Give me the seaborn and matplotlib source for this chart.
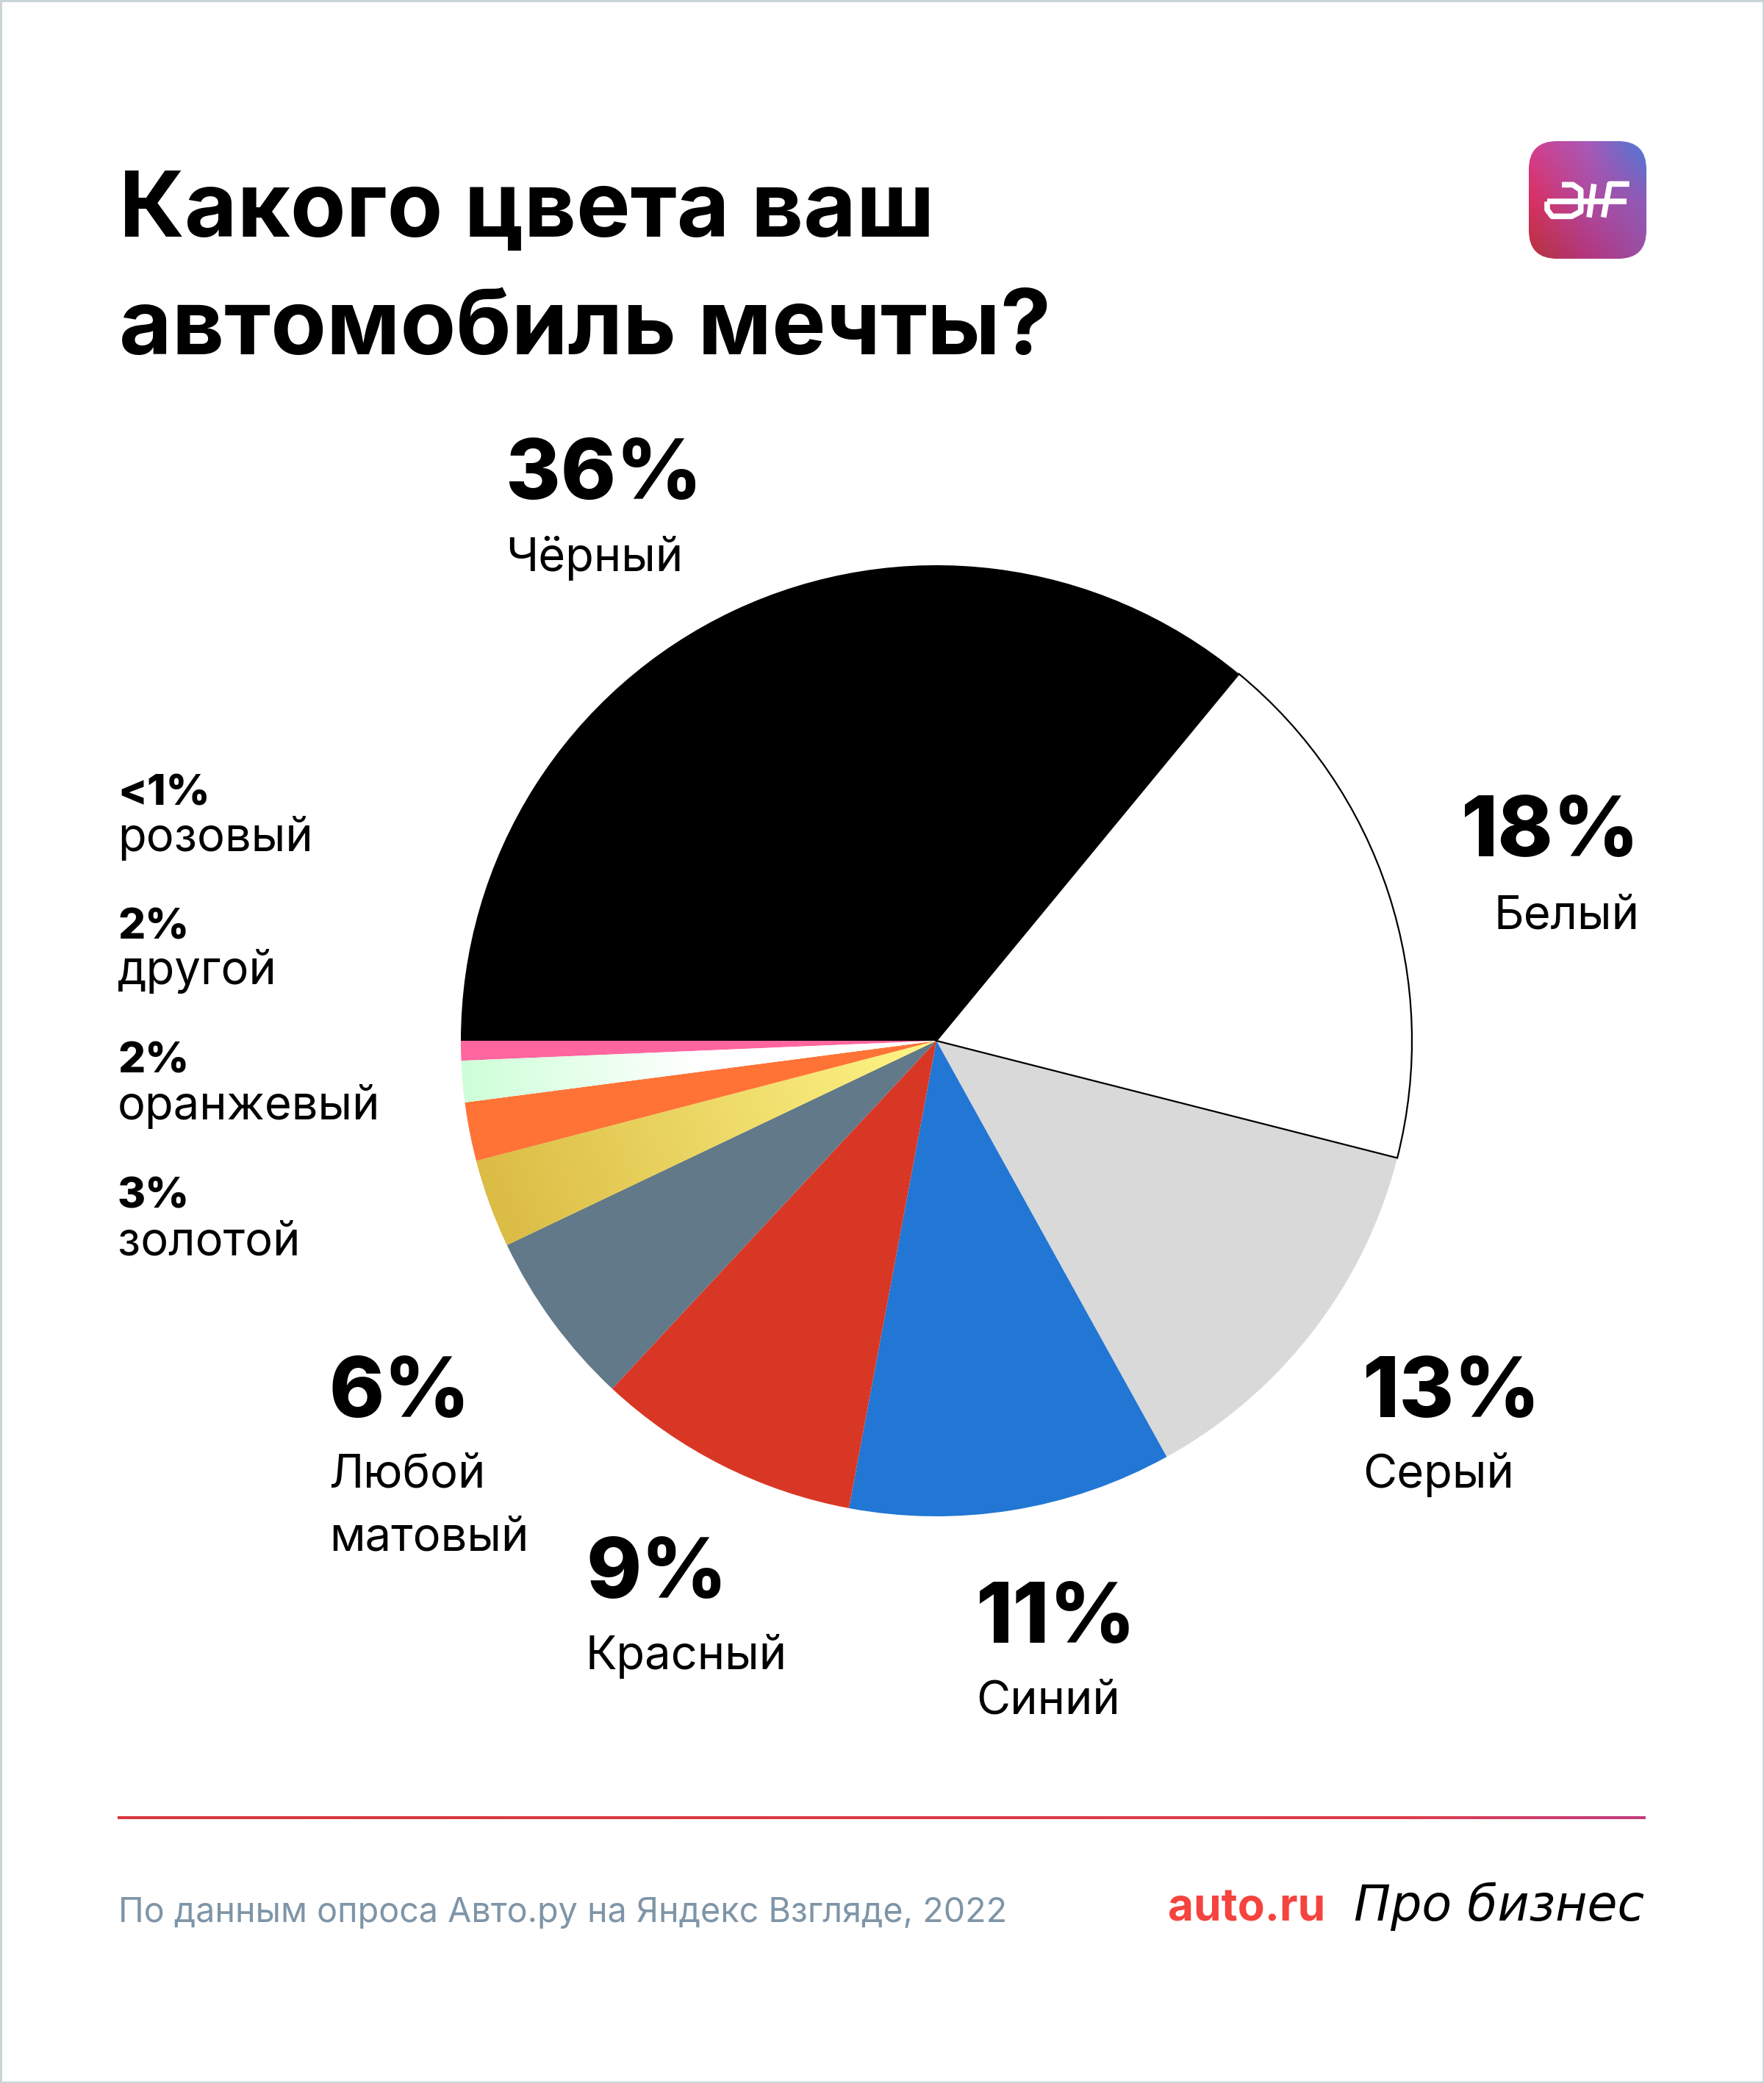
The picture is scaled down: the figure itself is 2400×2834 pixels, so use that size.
import numpy as np
import matplotlib
matplotlib.use("Agg")
import matplotlib.pyplot as plt
from matplotlib.colors import LinearSegmentedColormap, to_rgb
from matplotlib.patches import FancyBboxPatch, Rectangle
import seaborn as sns

# ---- data -------------------------------------------------------------
categories = ["Чёрный", "Белый", "Серый", "Синий", "Красный", "Любой матовый",
              "золотой", "оранжевый", "другой", "розовый"]
# wedge shares (the printed labels are rounded)
shares = [36.0, 18.0, 13.0, 11.0, 9.0, 6.0, 3.0, 2.0, 1.4, 0.67]
colors = ["#000000", "#FFFFFF", "#D9D9D9", "#2276D4", "#D93725", "#627989",
          "#E8D260", "#FF7337", "#EFFFF2", "#FF659E"]

title_lines = ["Какого цвета ваш", "автомобиль мечты?"]
big_labels = [
    ("36%", ["Чёрный"], 688, 679, [777], "left"),
    ("18%", ["Белый"], 2231, 1165, [1263], "right"),
    ("13%", ["Серый"], 1854, 1928, [2024], "left"),
    ("11%", ["Синий"], 1328, 2235, [2331], "left"),
    ("9%", ["Красный"], 797, 2174, [2271], "left"),
    ("6%", ["Любой", "матовый"], 448, 1928, [2024, 2109], "left"),
]
small_labels = [
    ("<1%", "розовый", 1095, 1158),
    ("2%", "другой", 1278, 1339),
    ("2%", "оранжевый", 1460, 1523),
    ("3%", "золотой", 1643, 1708),
]
source_text = "По данным опроса Авто.ру на Яндекс Взгляде, 2022"

# ---- theme ------------------------------------------------------------
sns.set_theme(style="white")
plt.rcParams["font.family"] = ["Inter", "Noto Sans", "DejaVu Sans"]

W, H = 2400, 2834
fig = plt.figure(figsize=(W / 100, H / 100), dpi=100, facecolor="white")

# page-pixel overlay for all the text
page = fig.add_axes([0, 0, 1, 1], zorder=5)
page.patch.set_visible(False)
page.axis("off")

# ---- pie --------------------------------------------------------------
CX, CY, R, PAD = 1274, 1416, 647, 1.25
half = R * PAD
ax = fig.add_axes([(CX - half) / W, 1 - (CY + half) / H, 2 * half / W, 2 * half / H], zorder=1)
palette = sns.color_palette(colors)
wedges, _ = ax.pie(shares, colors=palette, startangle=180, counterclock=False,
                   radius=1, wedgeprops={"linewidth": 0})
ax.set_xlim(-PAD, PAD)
ax.set_ylim(-PAD, PAD)
ax.patch.set_visible(False)

# white wedge: thin black outline, on top of its neighbours
white = wedges[categories.index("Белый")]
white.set_edgecolor("black")
white.set_linewidth(1.6)
white.set_zorder(4)


def radial_fill(wedge, c_rim, c_tip, start):
    mid = np.deg2rad((wedge.theta1 + wedge.theta2) / 2)
    g = np.linspace(-1.02, 1.02, 600)
    X, Y = np.meshgrid(g, g)
    t = np.clip(((X * np.cos(mid) + Y * np.sin(mid)) - start) / (1 - start), 0, 1)
    cmap = LinearSegmentedColormap.from_list("g", [c_tip, c_rim])
    im = ax.imshow(t, extent=[-1.02, 1.02, -1.02, 1.02], origin="lower", cmap=cmap,
                   vmin=0, vmax=1, zorder=3, interpolation="bilinear")
    im.set_clip_path(wedge)


radial_fill(wedges[categories.index("золотой")], "#DBBC45", "#FFF688", 0.0)
radial_fill(wedges[categories.index("другой")], "#CDFFD8", "#FFFFFF", 0.5)
ax.set_xlim(-PAD, PAD)
ax.set_ylim(-PAD, PAD)
ax.set_aspect("equal")

# ---- text -------------------------------------------------------------
BIG = dict(fontsize=82, fontweight="extra bold", color="black", va="baseline")
NAME = dict(fontsize=45.5, fontweight="normal", color="black", va="baseline")
SMALLPCT = dict(fontsize=42, fontweight="extra bold", color="black", va="baseline")
SMALLNAME = dict(fontsize=45.5, fontweight="normal", color="black", va="baseline")

for i, line in enumerate(title_lines):
    page.text(162, 322 + i * 160, line, fontsize=89, fontweight="bold", color="black", va="baseline")

for pct, names, x, y_pct, ys, ha in big_labels:
    page.text(x, y_pct, pct, ha=ha, **BIG)
    for name, y in zip(names, ys):
        page.text(x, y, name, ha=ha, **NAME)

for pct, name, y1, y2 in small_labels:
    page.text(160, y1, pct, **SMALLPCT)
    page.text(160, y2, name, **SMALLNAME)

page.text(161, 2615, source_text, fontsize=33.6, color="#7F95A7", va="baseline")
page.text(1589, 2613, "auto.ru", fontsize=43.5, fontweight="bold", color="#F5433F", va="baseline")
page.text(1842, 2613, "Про бизнес", fontsize=48, fontstyle="italic", color="black", va="baseline",
          family=["DejaVu Sans"])

# rule with a slight colour drift
rule = LinearSegmentedColormap.from_list(
    "r", [(0, "#D8363A"), (0.85, "#DF3A4B"), (1, "#C03C80")])
page.imshow(np.linspace(0, 1, 512)[None, :], extent=[160, 2239, 2475, 2471], aspect="auto", cmap=rule)

page.set_xlim(0, W)
page.set_ylim(H, 0)

# page outline
fig.patches.append(Rectangle((0, 0), 1, 1, transform=fig.transFigure, fill=False,
                             edgecolor="#C8D4D6", linewidth=3.5, figure=fig))

# ---- logo -------------------------------------------------------------
logo = fig.add_axes([2080 / W, 1 - 352 / H, 160 / W, 160 / H], zorder=6)
logo.axis("off")
grid3 = [["#D24090", "#A85AB8", "#4A7AD8"],
         ["#DB2F60", "#B04AA0", "#8C5CB8"],
         ["#B5333A", "#B4357C", "#9A4FA5"]]
rgb3 = np.array([[to_rgb(c) for c in row] for row in grid3])
n = 200
pos = np.linspace(0, 2, n)
img = np.zeros((n, n, 3))
for ch in range(3):
    across = np.array([np.interp(pos, [0, 1, 2], rgb3[r, :, ch]) for r in range(3)])
    for col in range(n):
        img[:, col, ch] = np.interp(pos, [0, 1, 2], across[:, col])
im = logo.imshow(img, extent=[0, 1, 1, 0], aspect="auto", interpolation="bilinear")
box = FancyBboxPatch((0.0, 0.0), 1, 1, boxstyle="round,pad=0,rounding_size=0.24",
                     transform=logo.transData, linewidth=0, facecolor="none")
logo.add_patch(box)
im.set_clip_path(box)
box.set_clip_on(False)


def gx(p):  # position in the logo crop -> logo axes units
    return (p - 120) / 480


def gy(p):
    return (p - 65) / 480


glyphs = [
    [(255, 243), (300, 243), (332, 265), (332, 310), (332, 352), (295, 372), (255, 372),
     (215, 372), (195, 345), (195, 312)],
    [(195, 312), (520, 312)],
    [(366, 376), (386, 240)],
    [(425, 376), (443, 280), (450, 240), (490, 240), (530, 240)],
]
for pts in glyphs:
    logo.plot([gx(a) for a, _ in pts], [gy(b) for _, b in pts], color="white", lw=5.5,
              solid_capstyle="butt", solid_joinstyle="round")
logo.set_xlim(0, 1)
logo.set_ylim(1, 0)

fig.savefig("out.png", dpi=100, facecolor="white")
